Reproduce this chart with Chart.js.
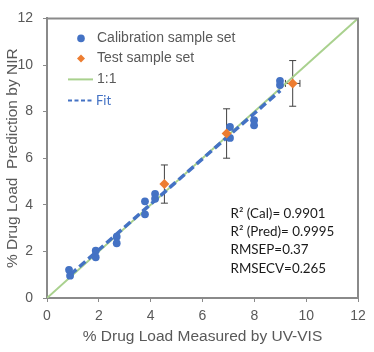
<!DOCTYPE html>
<html>
<head>
<meta charset="utf-8">
<script src="https://cdn.jsdelivr.net/npm/chart.js@4.4.1/dist/chart.umd.min.js"></script>
<style>
  html,body{margin:0;padding:0;background:#fff;}
  #wrap{width:374px;height:352px;}
</style>
</head>
<body>
<div id="wrap"><canvas id="c" width="374" height="352"></canvas></div>
<script>
// ---- data ----
const calX=[0.85,0.89,1.88,1.88,2.69,2.69,3.78,3.78,4.17,4.17,7.06,7.06,7.99,7.99,8.99,8.99];
const calY=[1.21,0.96,2.03,1.75,2.63,2.35,4.15,3.59,4.47,4.26,7.34,6.87,7.63,7.41,9.32,9.14];
const testX=[4.53,6.93,9.48];
const testY=[4.89,7.06,9.21];
const testErrY=[0.82,1.06,0.98];
const testErrX=[0,0,0.28];
const oneX=[0,12];
const oneY=[0,12];
const fitX=[0.9,9.0];
const fitY=[1.0,8.9];
const ticks=[0,2,4,6,8,10,12];
const stats=['R\u00b2 (Cal)= 0.9901','R\u00b2 (Pred)= 0.9995','RMSEP=0.37','RMSECV=0.265'];

const BLUE='#4472C4', ORANGE='#ED7D31', GREEN='#A9D18E', GREY='#8a8a8a', TXT='#595959';
const pts=(xs,ys)=>xs.map((x,i)=>({x,y:ys[i]}));

// error bars for test set, drawn under the markers
const errorBars={
  id:'errorBars',
  beforeDatasetsDraw(chart){
    const {ctx,scales:{x,y}}=chart;
    ctx.save();
    ctx.strokeStyle='#404040';ctx.lineWidth=1;
    testX.forEach((tx,i)=>{
      const px=x.getPixelForValue(tx), py=y.getPixelForValue(testY[i]);
      const y1=y.getPixelForValue(testY[i]+testErrY[i]), y2=y.getPixelForValue(testY[i]-testErrY[i]);
      ctx.beginPath();
      ctx.moveTo(px,y1);ctx.lineTo(px,y2);
      ctx.moveTo(px-3.5,y1);ctx.lineTo(px+3.5,y1);
      ctx.moveTo(px-3.5,y2);ctx.lineTo(px+3.5,y2);
      if(testErrX[i]>0){
        const x1=x.getPixelForValue(tx-testErrX[i]), x2=x.getPixelForValue(tx+testErrX[i]);
        ctx.moveTo(x1,py);ctx.lineTo(x2,py);
        ctx.moveTo(x1,py-3.5);ctx.lineTo(x1,py+3.5);
        ctx.moveTo(x2,py-3.5);ctx.lineTo(x2,py+3.5);
      }
      ctx.stroke();
    });
    ctx.restore();
  }
};

// top/right frame, legend inside the plot, stats text
const extras={
  id:'extras',
  afterDraw(chart){
    const {ctx,chartArea:a}=chart;
    ctx.save();
    ctx.strokeStyle=GREY;ctx.lineWidth=2;
    ctx.beginPath();
    ctx.moveTo(a.left,a.top);ctx.lineTo(a.right,a.top);ctx.lineTo(a.right,a.bottom);
    ctx.stroke();

    // legend
    const lx=a.left+34, tx=a.left+50;
    ctx.textBaseline='middle';
    ctx.font='14px "Liberation Sans", Arial, sans-serif';
    ctx.fillStyle=BLUE;
    ctx.beginPath();ctx.arc(lx,a.top+20,3.8,0,Math.PI*2);ctx.fill();
    ctx.fillStyle=TXT;ctx.fillText('Calibration sample set',tx,a.top+20);
    ctx.fillStyle=ORANGE;
    ctx.beginPath();ctx.moveTo(lx,a.top+36);ctx.lineTo(lx+4,a.top+40);ctx.lineTo(lx,a.top+44);ctx.lineTo(lx-4,a.top+40);ctx.closePath();ctx.fill();
    ctx.fillStyle=TXT;ctx.fillText('Test sample set',tx,a.top+40);
    ctx.strokeStyle=GREEN;ctx.lineWidth=2;
    ctx.beginPath();ctx.moveTo(a.left+21,a.top+61);ctx.lineTo(a.left+46,a.top+61);ctx.stroke();
    ctx.fillText('1:1',tx,a.top+61);
    ctx.strokeStyle=BLUE;ctx.lineWidth=2;ctx.setLineDash([4,2.5]);
    ctx.beginPath();ctx.moveTo(a.left+21,a.top+82);ctx.lineTo(a.left+47,a.top+82);ctx.stroke();
    ctx.setLineDash([]);
    ctx.font='13px Lato, sans-serif';ctx.fillStyle=BLUE;
    ctx.fillText('Fit',tx-1,a.top+82);

    // stats
    ctx.font='13.4px Lato, sans-serif';ctx.fillStyle='#1a1a1a';
    stats.forEach((s,i)=>ctx.fillText(s,230.5,213.5+i*18.3));
    ctx.restore();
  }
};

new Chart(document.getElementById('c').getContext('2d'),{
  type:'scatter',
  data:{datasets:[
    {label:'1:1',data:pts(oneX,oneY),showLine:true,borderColor:GREEN,borderWidth:2,pointRadius:0,order:4},
    {label:'Calibration sample set',data:pts(calX,calY),backgroundColor:BLUE,borderColor:BLUE,pointRadius:3.9,pointBorderWidth:0,order:3},
    {label:'Fit',data:pts(fitX,fitY),showLine:true,borderColor:BLUE,borderWidth:3.5,borderDash:[8,4],pointRadius:0,order:2},
    {label:'Test sample set',data:pts(testX,testY),pointStyle:'rectRot',backgroundColor:ORANGE,borderColor:ORANGE,pointRadius:5,pointBorderWidth:0,order:1}
  ]},
  options:{
    responsive:false,animation:false,
    layout:{padding:{top:16,right:16,left:0,bottom:0}},
    plugins:{legend:{display:false},tooltip:{enabled:false}},
    scales:{
      x:{type:'linear',min:0,max:12,
        afterBuildTicks:s=>{s.ticks=ticks.map(v=>({value:v}));},
        afterFit:s=>{s.height=54;},
        grid:{display:true,drawOnChartArea:false,drawTicks:true,tickLength:4,color:GREY,lineWidth:1},
        border:{display:true,color:GREY,width:2},
        ticks:{color:TXT,font:{family:'"Liberation Sans", Arial, sans-serif',size:14},padding:6,maxRotation:0},
        title:{display:true,text:'% Drug Load Measured by UV-VIS',color:TXT,font:{family:'"Liberation Sans", Arial, sans-serif',size:15.5},padding:{top:0,bottom:6}}
      },
      y:{type:'linear',min:0,max:12,
        afterBuildTicks:s=>{s.ticks=ticks.map(v=>({value:v}));},
        afterFit:s=>{s.width=47;},
        grid:{display:true,drawOnChartArea:false,drawTicks:true,tickLength:4,color:GREY,lineWidth:1},
        border:{display:true,color:GREY,width:2},
        ticks:{color:TXT,font:{family:'"Liberation Sans", Arial, sans-serif',size:14},padding:10},
        title:{display:true,text:'% Drug Load  Prediction by NIR',color:TXT,font:{family:'"Liberation Sans", Arial, sans-serif',size:15.5},padding:{top:3,bottom:0}}
      }
    }
  },
  plugins:[errorBars,extras]
});
</script>
</body>
</html>
